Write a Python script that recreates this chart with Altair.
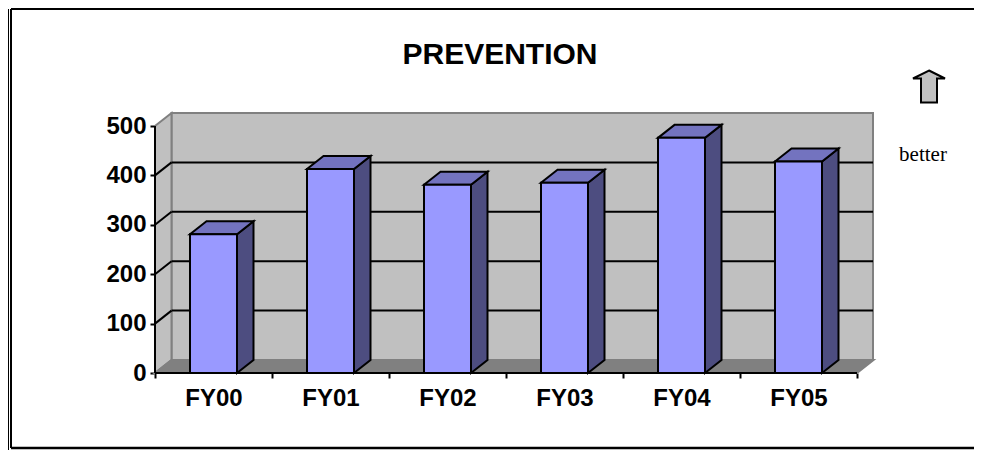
import altair as alt
import pandas as pd

# ---- values ----
CATS = ["FY00", "FY01", "FY02", "FY03", "FY04", "FY05"]
VALUES = [281, 413, 381, 385, 476, 428]
TICKS_Y = [0, 100, 200, 300, 400, 500]
GRID_Y = [100, 200, 300, 400]

# ---- scale / pseudo-3D geometry (category units, value units) ----
PX_W, PX_H = 718, 259
PX_PER_CAT, PX_PER_VAL = 117.0, 0.494
DX = 16.5 / PX_PER_CAT
DY = 13.0 / PX_PER_VAL
XMAX = PX_W / PX_PER_CAT
YMAX = PX_H / PX_PER_VAL
BAR = 47.0 / PX_PER_CAT
N = len(CATS)
VMAX = TICKS_Y[-1]

XS = alt.Scale(domain=[0, XMAX], nice=False, zero=False)
YS = alt.Scale(domain=[0, YMAX], nice=False, zero=False)
FONT = "Liberation Sans"


def X(f="x"):
    return alt.X(f"{f}:Q", scale=XS, axis=None, title=None)


def Y(f="y"):
    return alt.Y(f"{f}:Q", scale=YS, axis=None, title=None)


X2 = lambda f="x2": alt.X2(f"{f}:Q")
Y2 = lambda f="y2": alt.Y2(f"{f}:Q")
WALL, FLOOR, EDGE = "#C0C0C0", "#808080", "#808080"
FRONT, SIDE, TOP = "#9999FF", "#4D4D80", "#7373BF"

# ---- walls ----
back = alt.Chart(pd.DataFrame([{"x": DX, "x2": XMAX, "y": DY, "y2": VMAX + DY}])).mark_rect(
    fill=WALL, stroke=EDGE, strokeWidth=2
).encode(x=X(), x2=X2(), y=Y(), y2=Y2())

left = alt.Chart(pd.DataFrame([
    {"x": 0, "y": 0, "y2": VMAX},
    {"x": DX, "y": DY, "y2": VMAX + DY},
])).mark_area(fill=WALL, stroke=EDGE, strokeWidth=2, orient="vertical").encode(x=X(), y=Y(), y2=Y2())

floor = alt.Chart(pd.DataFrame([
    {"y": 0, "x": 0, "x2": N},
    {"y": DY, "x": DX, "x2": N + DX},
])).mark_area(fill=FLOOR, stroke=EDGE, strokeWidth=2, orient="horizontal").encode(y=Y(), x=X(), x2=X2())

# ---- grid on back and left walls ----
grid_back = alt.Chart(pd.DataFrame([{"x": DX, "x2": XMAX, "y": v + DY} for v in GRID_Y])).mark_rule(
    color="black", strokeWidth=2
).encode(x=X(), x2=X2(), y=Y())

grid_left = alt.Chart(pd.DataFrame(
    [{"v": v, "x": 0, "y": v} for v in GRID_Y] + [{"v": v, "x": DX, "y": v + DY} for v in GRID_Y]
)).mark_line(color="black", strokeWidth=2).encode(x=X(), y=Y(), detail="v:N")

# ---- bars ----
rows_side, rows_top, rows_front = [], [], []
for i, (c, v) in enumerate(zip(CATS, VALUES)):
    l = i + 0.5 - BAR / 2
    r = i + 0.5 + BAR / 2
    rows_front.append({"cat": c, "x": l, "x2": r, "y": 0, "y2": v})
    rows_side += [
        {"cat": c, "x": r, "y": 0, "y2": v},
        {"cat": c, "x": r + DX, "y": DY, "y2": v + DY},
    ]
    rows_top += [
        {"cat": c, "y": v, "x": l, "x2": r},
        {"cat": c, "y": v + DY, "x": l + DX, "x2": r + DX},
    ]

STROKE = dict(stroke="black", strokeWidth=2, strokeJoin="miter")
side = alt.Chart(pd.DataFrame(rows_side)).mark_area(fill=SIDE, orient="vertical", **STROKE).encode(
    x=X(), y=Y(), y2=Y2(), detail="cat:N")
top = alt.Chart(pd.DataFrame(rows_top)).mark_area(fill=TOP, orient="horizontal", **STROKE).encode(
    y=Y(), x=X(), x2=X2(), detail="cat:N")
front = alt.Chart(pd.DataFrame(rows_front)).mark_rect(fill=FRONT, **STROKE).encode(
    x=X(), x2=X2(), y=Y(), y2=Y2())

# ---- axis lines ----
x_line = alt.Chart(pd.DataFrame([{"x": 0, "x2": N, "y": 0}])).mark_rule(color="black", strokeWidth=2).encode(
    x=X(), x2=X2(), y=Y())
y_line = alt.Chart(pd.DataFrame([{"x": 0, "y": 0, "y2": VMAX}])).mark_rule(color="black", strokeWidth=2).encode(
    x=X(), y=Y(), y2=Y2())

# ---- axes: one carries ticks at category edges, the other the labels ----
ticks_df = pd.DataFrame([{"x": 0, "y": 0}])
axis_ticks = alt.Chart(ticks_df).mark_point(opacity=0).encode(
    x=alt.X("x:Q", scale=XS, title=None, axis=alt.Axis(
        orient="bottom", values=list(range(N + 1)), labels=False, domain=False, grid=False,
        tickColor="black", tickWidth=2, tickSize=5)),
    y=alt.Y("y:Q", scale=YS, title=None, axis=alt.Axis(
        orient="left", values=TICKS_Y, domain=False, grid=False, tickColor="black", tickWidth=2, tickSize=5,
        labelFont=FONT, labelFontSize=24, labelFontWeight="bold", labelColor="black", labelPadding=4,
        labelFlush=False, labelOverlap=False)),
)
axis_labels = alt.Chart(ticks_df).mark_point(opacity=0).encode(
    x=alt.X("x:Q", scale=XS, title=None, axis=alt.Axis(
        orient="bottom", values=[i + 0.5 for i in range(N)],
        labelExpr="['" + "','".join(CATS) + "'][floor(datum.value)]",
        domain=False, grid=False, ticks=False, labelPadding=13, labelFlush=False, labelOverlap=False,
        labelFont=FONT, labelFontSize=24, labelFontWeight="bold", labelColor="black")),
    y=Y(),
)

# ---- annotations ----
ARROW = "M0,-1 L1,-0.5 L0.5,-0.5 L0.5,1 L-0.5,1 L-0.5,-0.5 L-1,-0.5 Z"
arrow = alt.Chart(ticks_df).mark_point(
    shape=ARROW, size=1024, filled=True, fill=WALL, stroke="black", strokeWidth=2, opacity=1, clip=False
).encode(x=alt.value(774), y=alt.value(-27.5))
better = alt.Chart(pd.DataFrame([{"t": "better"}])).mark_text(
    font="Liberation Serif", fontSize=21, color="black", align="center", baseline="middle", clip=False
).encode(text="t:N", x=alt.value(768), y=alt.value(41))

# ---- page frame (only the part inside the chart's own area can be drawn) ----
L, T, R, B = -147, -106, 819, 336
frame = [
    ("h", L + 3, R, T + 1, 2),
    ("h", L + 3, R, B - 2, 2.5),
    ("v", T + 1, B, L + 0.5, 1),
    ("v", T + 1, B - 2, L + 3, 2),
]
frame_layers = []
for kind, a, b, c, w in frame:
    base = alt.Chart(ticks_df).mark_rule(color="black", strokeWidth=w, clip=False)
    if kind == "h":
        frame_layers.append(base.encode(x=alt.value(a), x2=alt.value(b), y=alt.value(c)))
    else:
        frame_layers.append(base.encode(y=alt.value(a), y2=alt.value(b), x=alt.value(c)))

chart = alt.layer(
    back, left, floor, grid_back, grid_left, side, top, front, x_line, y_line,
    axis_ticks, axis_labels, arrow, better, *frame_layers,
).resolve_axis(x="independent", y="independent").properties(
    width=PX_W, height=PX_H,
    padding={"left": 147, "top": 106, "right": 101, "bottom": 77},
    autosize=alt.AutoSizeParams(type="none"),
    title=alt.TitleParams("PREVENTION", font=FONT, fontSize=30, fontWeight="bold", color="black",
                          anchor="middle", frame="group", baseline="alphabetic", dx=-14, dy=86, offset=0),
).configure_view(stroke=None)

chart.save("out.html", embed_options={"renderer": "svg", "actions": False})
